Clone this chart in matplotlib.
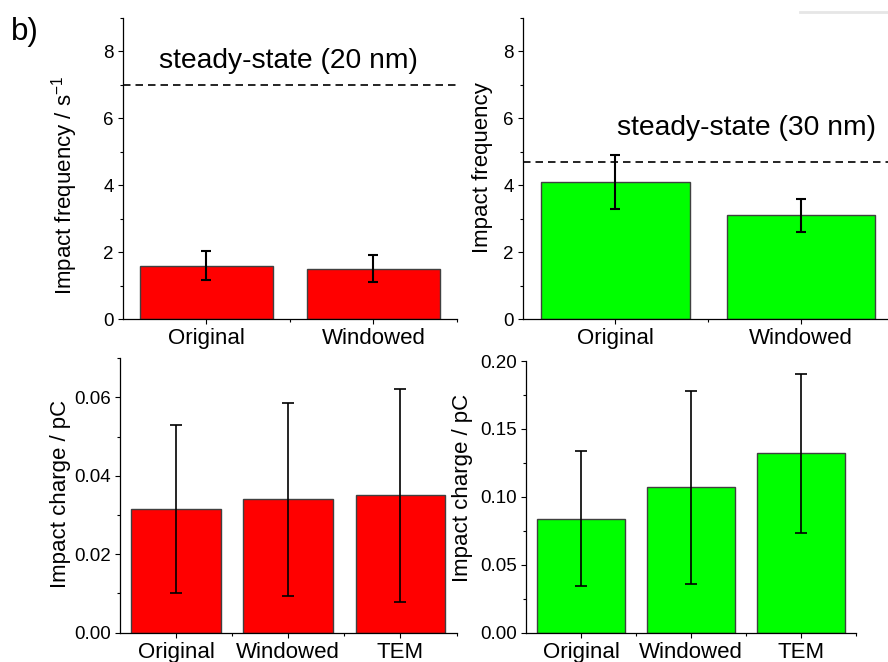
import numpy as np
import matplotlib
matplotlib.use("Agg")
import matplotlib.pyplot as plt
from matplotlib.lines import Line2D
from matplotlib.ticker import MultipleLocator, FormatStrFormatter

# Arial-like font for everything
matplotlib.rcParams['font.family'] = 'Liberation Sans'
matplotlib.rcParams['mathtext.fontset'] = 'custom'
matplotlib.rcParams['mathtext.rm'] = 'Liberation Sans'

# Data
freq_cats = ["Original", "Windowed"]
freq_20 = [1.6, 1.5]
freq_20_err = [0.42, 0.40]
freq_30 = [4.1, 3.1]
freq_30_err = [0.8, 0.5]
steady_20 = 7.0
steady_30 = 4.7

charge_cats = ["Original", "Windowed", "TEM"]
charge_20 = [0.0315, 0.034, 0.035]
charge_20_err = [0.0214, 0.0247, 0.0272]
charge_30 = [0.084, 0.107, 0.132]
charge_30_err = [0.050, 0.071, 0.0585]

RED = "#ff0000"
GREEN = "#00ff00"

fig = plt.figure(figsize=(8.88, 6.62), dpi=100)

ax1 = fig.add_axes([0.1385, 0.5181, 0.3761, 0.4547])
ax2 = fig.add_axes([0.5886, 0.5181, 0.4178, 0.4547])
ax3 = fig.add_axes([0.1351, 0.0443, 0.3790, 0.4145])
ax4 = fig.add_axes([0.5923, 0.0443, 0.3716, 0.4103])


def bar_panel(ax, cats, vals, errs, color, elw, cap):
    x = np.arange(1, len(cats) + 1)
    ax.bar(x, vals, width=0.8, color=color, edgecolor="#404040", linewidth=1.0, zorder=2)
    ax.errorbar(x, vals, yerr=errs, fmt="none", ecolor="black", elinewidth=elw,
                capsize=cap, capthick=elw, zorder=3)
    ax.set_xlim(0.5, len(cats) + 0.5)
    ax.set_xticks(x)
    ax.set_xticklabels(cats, fontsize=16)
    ax.set_xticks(np.arange(1.5, len(cats) + 0.6, 1.0), minor=True)
    for s in ["top", "right"]:
        ax.spines[s].set_visible(False)
    for s in ["left", "bottom"]:
        ax.spines[s].set_linewidth(0.9)
    ax.tick_params(which="major", direction="out", length=3.6, width=0.8, labelsize=13.5, pad=3)
    ax.tick_params(axis="x", which="major", labelsize=16)
    ax.tick_params(which="minor", direction="out", length=2.2, width=0.8)


# Impact frequency, 20 nm
bar_panel(ax1, freq_cats, freq_20, freq_20_err, RED, 1.5, 3.6)
ax1.set_ylim(0, 9)
ax1.yaxis.set_major_locator(MultipleLocator(2))
ax1.yaxis.set_minor_locator(MultipleLocator(1))
ax1.axhline(steady_20, color="black", linestyle=(0, (4.5, 3)), linewidth=1.2)
ax1.text(1.49, 7.51, "steady-state (20 nm)", ha="center", va="baseline", fontsize=20.3)
ax1.set_ylabel("Impact frequency / s$^{\\mathregular{-1}}$", fontsize=16)
ax1.yaxis.set_label_coords(-0.129, 0.445)

# Impact frequency, 30 nm
bar_panel(ax2, freq_cats, freq_30, freq_30_err, GREEN, 1.5, 3.6)
ax2.set_ylim(0, 9)
ax2.yaxis.set_major_locator(MultipleLocator(2))
ax2.yaxis.set_minor_locator(MultipleLocator(1))
ax2.axhline(steady_30, color="black", linestyle=(0, (4.5, 3)), linewidth=1.2)
ax2.text(1.708, 5.51, "steady-state (30 nm)", ha="center", va="baseline", fontsize=20.3)
ax2.set_ylabel("Impact frequency", fontsize=16)
ax2.yaxis.set_label_coords(-0.079, 0.503)

# Impact charge, 20 nm
bar_panel(ax3, charge_cats, charge_20, charge_20_err, RED, 1.2, 4)
ax3.set_ylim(0, 0.07)
ax3.yaxis.set_major_locator(MultipleLocator(0.02))
ax3.yaxis.set_minor_locator(MultipleLocator(0.01))
ax3.yaxis.set_major_formatter(FormatStrFormatter("%.2f"))
ax3.set_ylabel("Impact charge / pC", fontsize=16)
ax3.yaxis.set_label_coords(-0.1465, 0.505)

# Impact charge, 30 nm
bar_panel(ax4, charge_cats, charge_30, charge_30_err, GREEN, 1.2, 4)
ax4.set_ylim(0, 0.2)
ax4.yaxis.set_major_locator(MultipleLocator(0.05))
ax4.yaxis.set_minor_locator(MultipleLocator(0.025))
ax4.yaxis.set_major_formatter(FormatStrFormatter("%.2f"))
ax4.set_ylabel("Impact charge / pC", fontsize=16)
ax4.yaxis.set_label_coords(-0.16, 0.534)

# panel letter and faint gray line in the corner
fig.text(0.0124, 0.9396, "b)", fontsize=22.5, va="baseline", ha="left")
fig.add_artist(Line2D([800 / 888, 1.0], [1 - 12 / 662, 1 - 12 / 662],
                      transform=fig.transFigure, color="#e6e6e6", linewidth=2))

fig.savefig("out.png", dpi=100)
